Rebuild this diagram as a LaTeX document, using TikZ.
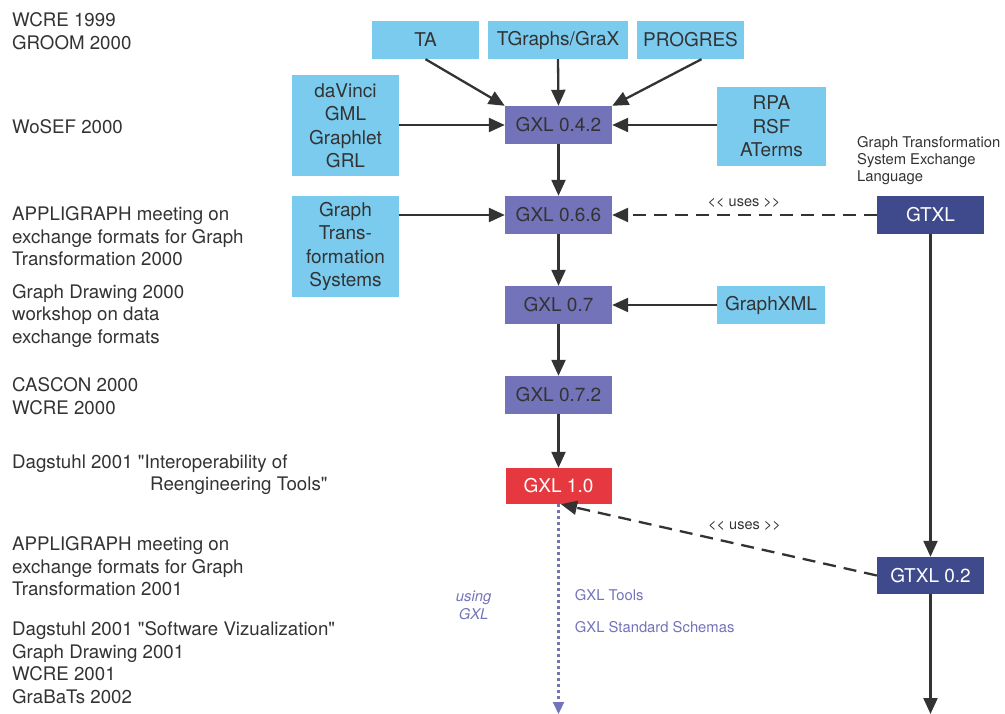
\documentclass[tikz,border=0pt]{standalone}
\usepackage{fontspec}
\setmainfont{TeX Gyre Heros}[Ligatures=TeXOff]
\usetikzlibrary{arrows.meta}
\definecolor{lblue}{HTML}{7BCBEF}
\definecolor{gxlpurple}{HTML}{7373B9}
\definecolor{navy}{HTML}{3E4A8B}
\definecolor{gxlred}{HTML}{E6393F}
\definecolor{ink}{HTML}{333333}
\tikzset{
  box/.style={inner sep=0pt, align=center, text=ink, font=\fontsize{19}{23.5}\selectfont},
  srcbox/.style={box, fill=lblue},
  gxlbox/.style={box, fill=gxlpurple, minimum width=107pt, minimum height=38pt},
  gtxlbox/.style={box, fill=navy, text=white, minimum width=107pt, minimum height=38pt},
  redbox/.style={box, fill=gxlred, text=white, minimum width=106pt, minimum height=36pt},
  evt/.style={anchor=west, align=left, inner sep=0pt, text=ink, font=\fontsize{18.7}{22.6}\selectfont},
  small/.style={inner sep=0pt, text=ink, font=\fontsize{14.8}{16.8}\selectfont},
  arr/.style={draw=ink, line width=2.3pt, -{Triangle[length=16pt,width=14pt]}},
  dasharr/.style={arr, dash pattern=on 13pt off 8pt},
  dotarr/.style={draw=gxlpurple, line width=2.2pt, dash pattern=on 3pt off 3pt, -{Triangle[length=12pt,width=11pt]}},
}
\begin{document}
\begin{tikzpicture}[x=1pt,y=-1pt]
\useasboundingbox (0,0) rectangle (1005,714);
% event labels
\node[evt] (e1) at (12,31) {WCRE 1999\\GROOM 2000};
\node[evt] (e2) at (12,127) {WoSEF 2000};
\node[evt] (e3) at (12,236.5) {APPLIGRAPH meeting on\\exchange formats for Graph\\Transformation 2000};
\node[evt] (e4) at (12,316) {Graph Drawing 2000\\workshop on data\\exchange formats};
\node[evt] (e5) at (12,396) {CASCON 2000\\WCRE 2000};
\node[evt] (e6) at (12,474.5) {Dagstuhl 2001 "Interoperability of\\\hspace*{138pt}Reengineering Tools"};
\node[evt] (e7) at (12,566.5) {APPLIGRAPH meeting on\\exchange formats for Graph\\Transformation 2001};
\node[evt] (e8) at (12,662.5) {Dagstuhl 2001 "Software Vizualization"\\Graph Drawing 2001\\WCRE 2001\\GraBaTs 2002};
% source boxes
\node[srcbox, minimum width=107pt, minimum height=38pt] (ta) at (425.5,40) {TA};
\node[srcbox, minimum width=140pt, minimum height=38pt] (tg) at (558,40) {TGraphs/GraX};
\node[srcbox, minimum width=107pt, minimum height=38pt] (pr) at (690.5,40) {PROGRES};
\node[srcbox, minimum width=107pt, minimum height=101pt] (dv) at (345.5,125.5) {daVinci\\GML\\Graphlet\\GRL};
\node[srcbox, minimum width=109pt, minimum height=79pt] (rpa) at (771.5,126.5) {RPA\\RSF\\ATerms};
\node[srcbox, minimum width=107pt, minimum height=101pt] (gts) at (345.5,246.5) {Graph\\Trans-\\formation\\Systems};
\node[srcbox, minimum width=108pt, minimum height=38pt] (gxml) at (771,305) {GraphXML};
% GXL versions
\node[gxlbox] (g042) at (558.5,125) {GXL 0.4.2};
\node[gxlbox] (g066) at (558.5,215) {GXL 0.6.6};
\node[gxlbox] (g07) at (558.5,305) {GXL 0.7};
\node[gxlbox] (g072) at (558.5,395) {GXL 0.7.2};
\node[redbox] (g10) at (558.5,486) {GXL 1.0};
% GTXL
\node[gtxlbox] (gtxl) at (930.5,215) {GTXL};
\node[gtxlbox, minimum height=37pt] (gtxl02) at (930.5,575.5) {GTXL 0.2};
\node[small, anchor=west, align=left] (gtxlname) at (857,160.5) {Graph Transformation\\System Exchange\\Language};
% ends
\coordinate (gend) at (558.5,714);
\coordinate (tend) at (930.5,714);
% arrows
\draw[arr] (ta.south) -- (g042.north west);
\draw[arr] (tg.south) -- (g042.north);
\draw[arr] ([xshift=11pt]pr.south) -- (g042.north east);
\draw[arr] (dv.east |- g042.west) -- (g042.west);
\draw[arr] (rpa.west |- g042.east) -- (g042.east);
\draw[arr] (g042) -- (g066);
\draw[arr] (gts.east |- g066.west) -- (g066.west);
\draw[arr] (g066) -- (g07);
\draw[arr] (gxml) -- (g07);
\draw[arr] (g07) -- (g072);
\draw[arr] (g072) -- (g10);
\draw[dasharr] (gtxl.west) -- (g066.east);
\node[small, font=\fontsize{14.5}{16}\selectfont] (uses1) at (744,203) {<< uses >>};
\draw[arr] (gtxl) -- (gtxl02);
\draw[arr] (gtxl02) -- (tend);
\draw[dasharr] (gtxl02.west) -- ([xshift=2.5pt]g10.south);
\node[small, font=\fontsize{14.5}{16}\selectfont] (uses2) at (744.5,526) {<< uses >>};
\draw[dotarr] (g10.south) -- (gend);
\node[small, text=gxlpurple, align=center, font=\itshape\fontsize{14.8}{18}\selectfont] (using) at (473.6,605) {using\\GXL};
\node[small, text=gxlpurple, anchor=west] (tools) at (574.7,595) {GXL Tools};
\node[small, text=gxlpurple, anchor=west] (schemas) at (574.7,627) {GXL Standard Schemas};
\end{tikzpicture}
\end{document}
